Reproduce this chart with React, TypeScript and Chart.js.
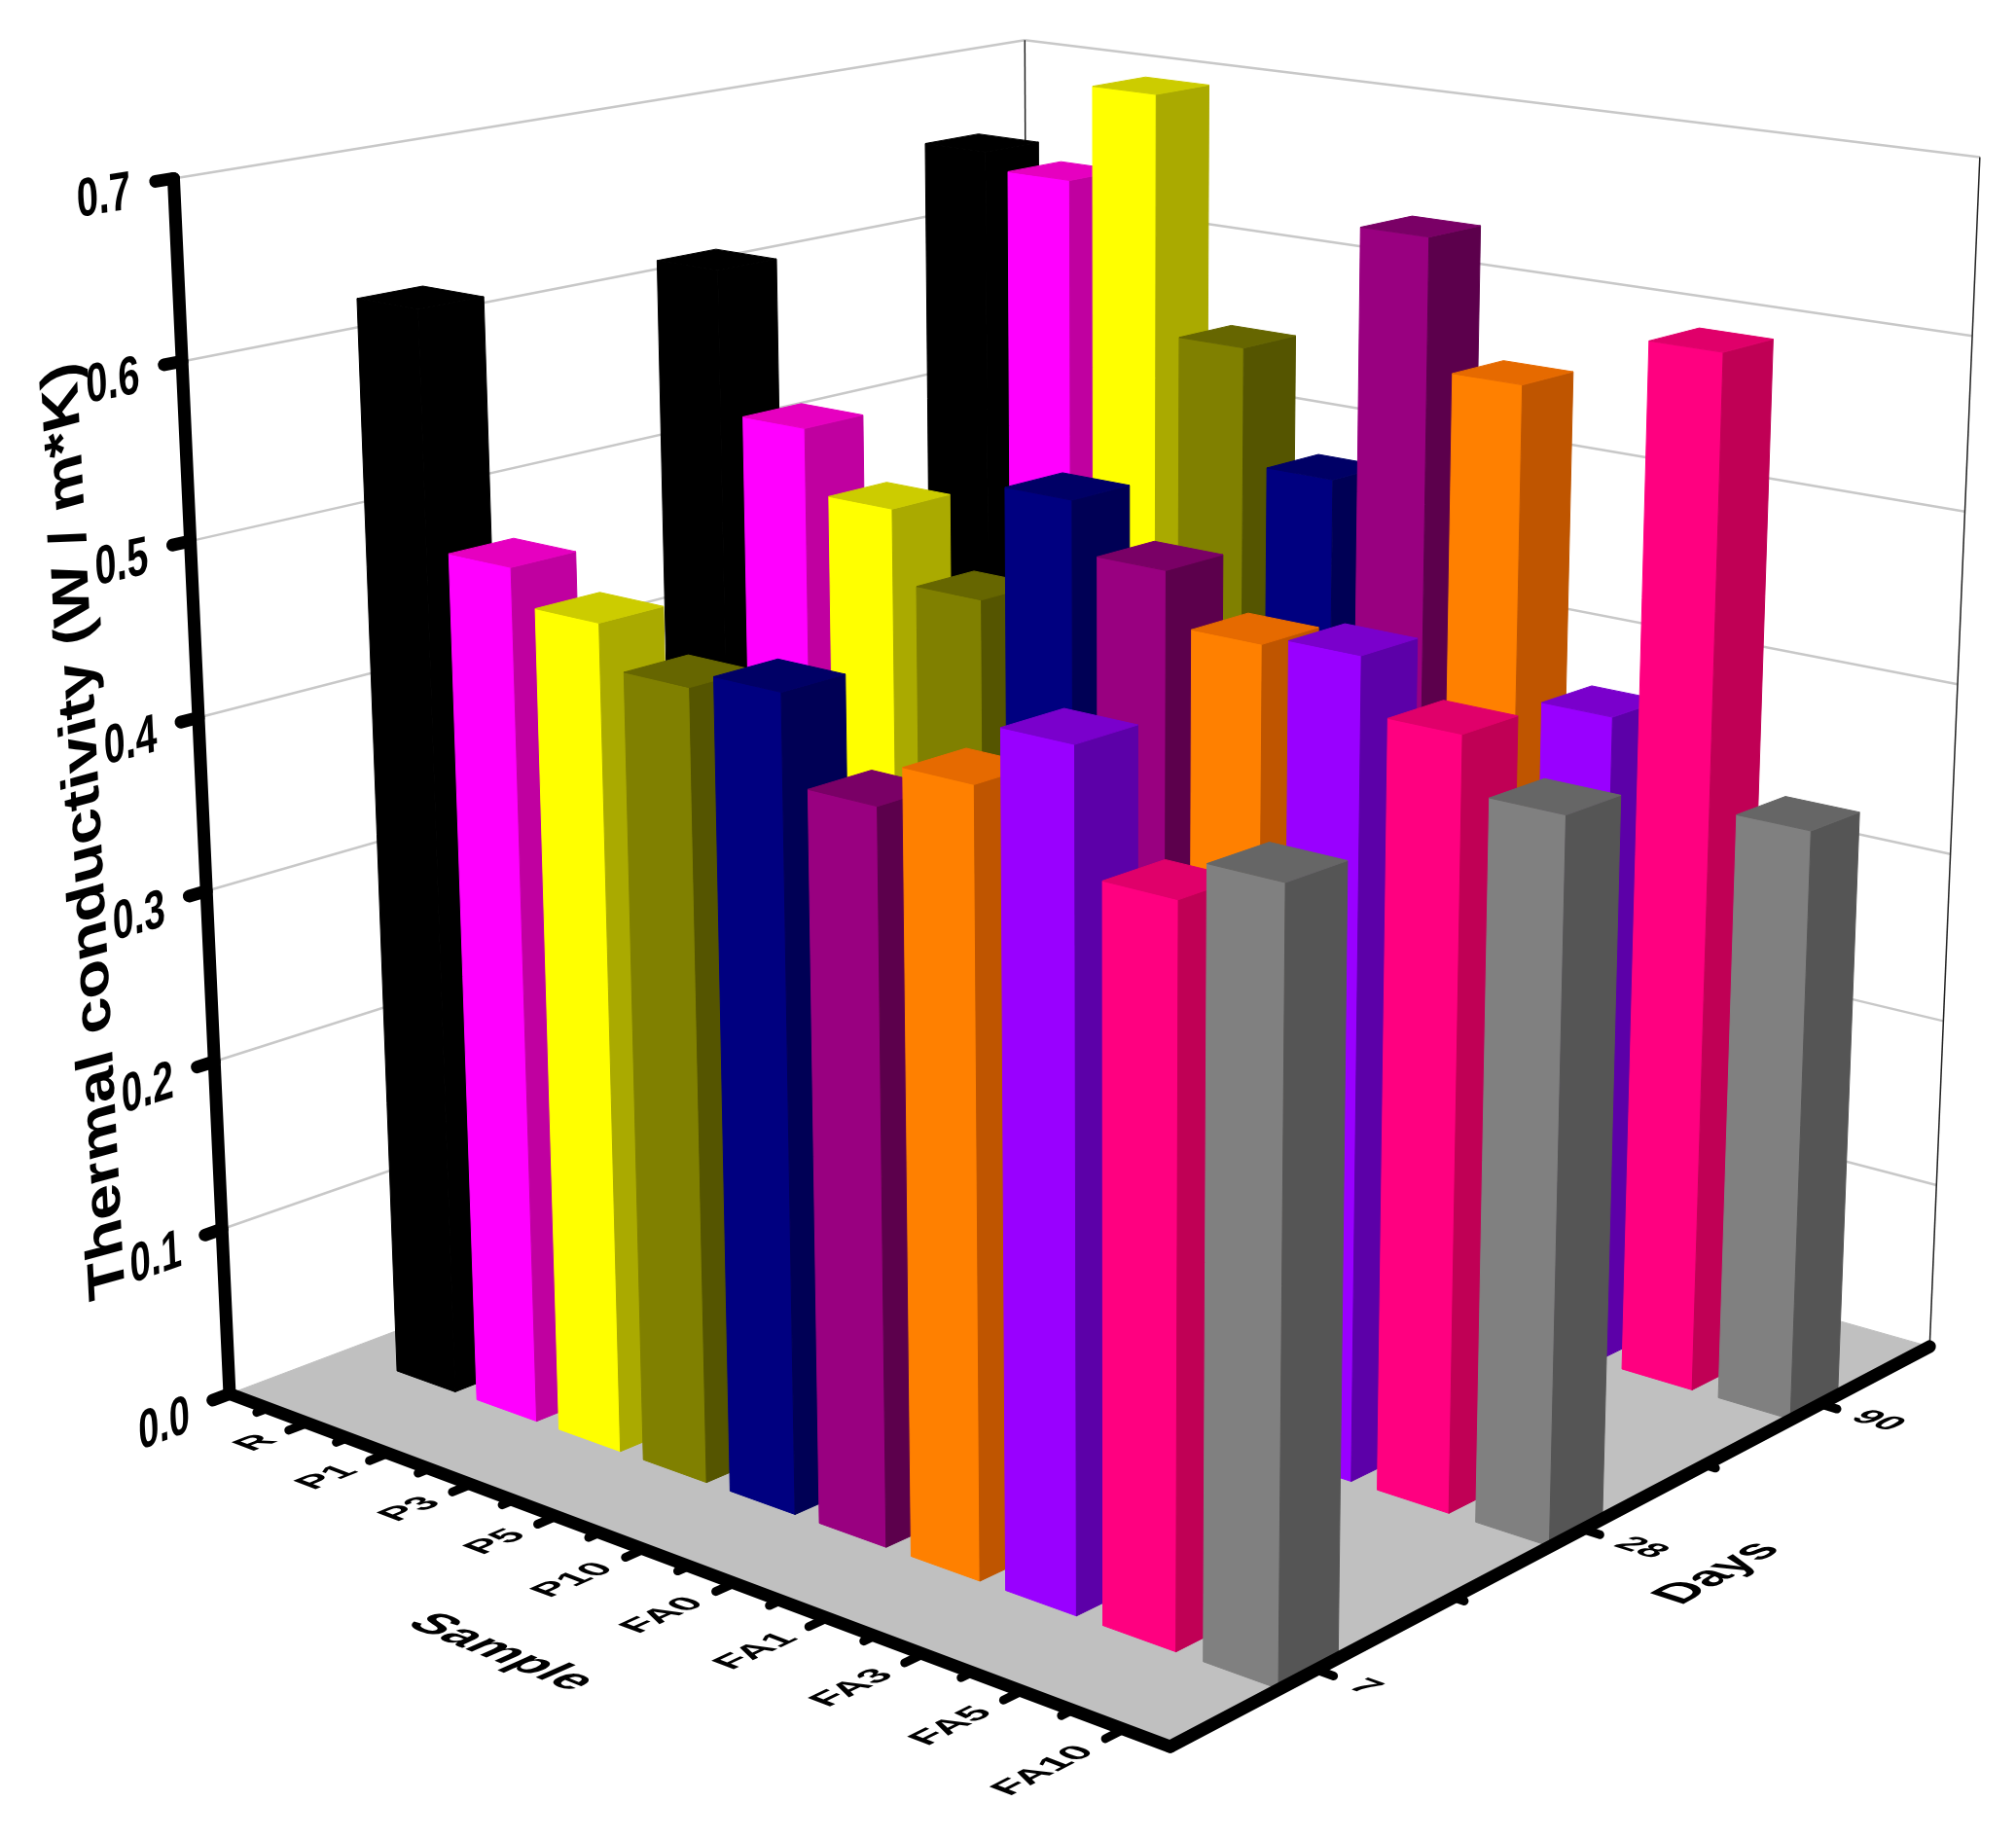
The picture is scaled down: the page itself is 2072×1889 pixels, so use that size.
import React, { useEffect, useRef } from "react";
import { Chart, registerables } from "chart.js";
Chart.register(...registerables);

const samples = ["R", "P1", "P3", "P5", "P10", "FA0", "FA1", "FA3", "FA5", "FA10"];
const days = ["7", "28", "90"];
const yTicks = [0, 0.1, 0.2, 0.3, 0.4, 0.5, 0.6, 0.7];
const yMax = 0.7;
const values7 = [0.628, 0.495, 0.475, 0.451, 0.46, 0.411, 0.435, 0.468, 0.401, 0.423];
const values28 = [0.617, 0.534, 0.497, 0.455, 0.522, 0.493, 0.463, 0.468, 0.437, 0.406];
const values90 = [0.657, 0.647, 0.705, 0.563, 0.494, 0.644, 0.568, 0.387, 0.604, 0.346];
const seriesByDay = [values7, values28, values90];
const faceFront = ["#000000", "#FF00FF", "#FFFF00", "#808000", "#000080", "#990080", "#FF8000", "#9900FF", "#FF0080", "#808080"];
const faceSide = ["#000000", "#C000A0", "#AAAA00", "#555500", "#000055", "#5C004C", "#BF5500", "#5C00A8", "#C00055", "#555555"];
const faceTop = ["#000000", "#E600C0", "#CCCC00", "#666600", "#000066", "#7A0066", "#E66A00", "#7A00CC", "#E0006A", "#666666"];

const K = 2072 / 1568;
// calibration of the box's corners: [sample, day, height] -> picture position
const anchors: number[][] = [
  [0, 0, 0, 183 * K, 1088 * K],
  [1, 0, 0, 905 * K, 1358 * K],
  [1, 1, 0, 1505 * K, 1045 * K],
  [0, 1, 0, 797 * K, 848 * K],
  [0, 0, 1, 135 * K, 135 * K],
  [0, 1, 1, 797 * K, 32 * K],
  [1, 1, 1, 1540 * K, 125 * K],
];
const firstU = 0.095;
const stepU = 0.0958;
const uAt = (i: number) => firstU + i * stepU;
const vAt = (j: number) => (j + 0.5) / days.length;
const barShiftU = 0.007;
const barShiftV = -0.008;

function solve(A: number[][], b: number[]) {
  const n = b.length;
  const M = A.map((r, i) => [...r, b[i]]);
  for (let c = 0; c < n; c++) {
    let p = c;
    for (let r = c + 1; r < n; r++) if (Math.abs(M[r][c]) > Math.abs(M[p][c])) p = r;
    [M[c], M[p]] = [M[p], M[c]];
    for (let r = 0; r < n; r++) {
      if (r === c) continue;
      const f = M[r][c] / M[c][c];
      for (let k = c; k <= n; k++) M[r][k] -= f * M[c][k];
    }
  }
  return M.map((r, i) => r[n] / r[i]);
}
function calibrate() {
  const R: number[][] = [];
  const B: number[] = [];
  for (const [u, v, w, px, py] of anchors) {
    const x = px / 1000, y = py / 1000;
    R.push([u, v, w, 1, 0, 0, 0, 0, -x * u, -x * v, -x * w]);
    B.push(x);
    R.push([0, 0, 0, 0, u, v, w, 1, -y * u, -y * v, -y * w]);
    B.push(y);
  }
  const AtA = Array.from({ length: 11 }, (_, i) => Array.from({ length: 11 }, (_, j) => R.reduce((s, r) => s + r[i] * r[j], 0)));
  const Atb = Array.from({ length: 11 }, (_, i) => R.reduce((s, r, k) => s + r[i] * B[k], 0));
  return solve(AtA, Atb);
}
const P = calibrate();
function project(u: number, v: number, w: number) {
  const d = P[8] * u + P[9] * v + P[10] * w + 1;
  return {
    x: ((P[0] * u + P[1] * v + P[2] * w + P[3]) * 1000) / d,
    y: ((P[4] * u + P[5] * v + P[6] * w + P[7]) * 1000) / d,
  };
}

type DS = any;
function poly(pts: number[][], color: string): DS {
  return {
    type: "line",
    data: [...pts, pts[0]].map((p) => project(p[0], p[1], p[2])),
    fill: "shape",
    backgroundColor: color,
    borderColor: color,
    borderWidth: 1,
    pointRadius: 0,
    tension: 0,
  };
}
function seg(a: number[], b: number[], color: string, width: number, cap = "butt"): DS {
  return {
    type: "line",
    data: [project(a[0], a[1], a[2]), project(b[0], b[1], b[2])],
    fill: false,
    borderColor: color,
    borderWidth: width,
    borderCapStyle: cap,
    pointRadius: 0,
    tension: 0,
  };
}

function buildDatasets() {
  const out: DS[] = [];
  const grid = "#C8C8C8";
  out.push(poly([[0, 0, 0], [1, 0, 0], [1, 1, 0], [0, 1, 0]], "#C0C0C0"));
  yTicks.slice(1).forEach((t) => {
    const w = t / yMax;
    out.push(seg([0, 0, w], [0, 1, w], grid, 2.5));
    out.push(seg([0, 1, w], [1, 1, w], grid, 2.5));
  });
  out.push(seg([0, 1, 0], [0, 1, 1], "#222222", 1.5));
  out.push(seg([1, 1, 0], [1, 1, 1], "#222222", 1.5));

  const wid = 0.07;
  for (let j = days.length - 1; j >= 0; j--) {
    const vc = vAt(j) + barShiftV;
    samples.forEach((_, i) => {
      const uc = uAt(i) + barShiftU;
      const h = seriesByDay[j][i] / yMax;
      const u0 = uc - wid / 2, u1 = uc + wid / 2, v0 = vc - wid / 2, v1 = vc + wid / 2;
      out.push(poly([[u0, v0, 0], [u1, v0, 0], [u1, v0, h], [u0, v0, h]], faceFront[i]));
      out.push(poly([[u1, v0, 0], [u1, v1, 0], [u1, v1, h], [u1, v0, h]], faceSide[i]));
      out.push(poly([[u0, v0, h], [u1, v0, h], [u1, v1, h], [u0, v1, h]], faceTop[i]));
    });
  }

  out.push(seg([0, 0, 0], [0, 0, 1], "#000000", 13, "round"));
  out.push(seg([0, 0, 0], [1, 0, 0], "#000000", 13, "round"));
  out.push(seg([1, 0, 0], [1, 1, 0], "#000000", 13, "round"));
  yTicks.forEach((t) => out.push(seg([0, 0, t / yMax], [0, -0.018, t / yMax], "#000000", 13, "round")));
  samples.forEach((_, i) => {
    out.push(seg([uAt(i), 0, 0], [uAt(i), -0.02, 0], "#000000", 9, "round"));
    out.push(seg([uAt(i) - stepU / 2, 0, 0], [uAt(i) - stepU / 2, -0.012, 0], "#000000", 9, "round"));
  });
  days.forEach((_, j) => {
    out.push(seg([1, vAt(j), 0], [1.016, vAt(j), 0], "#000000", 9, "round"));
    if (j > 0) out.push(seg([1, (vAt(j) + vAt(j - 1)) / 2, 0], [1.01, (vAt(j) + vAt(j - 1)) / 2, 0], "#000000", 9, "round"));
  });
  return out.map((d, k) => ({ ...d, order: -k }));
}

function dirOf(a: number[], b: number[]) {
  const p = project(a[0], a[1], a[2]);
  const q = project(b[0], b[1], b[2]);
  const l = Math.hypot(q.x - p.x, q.y - p.y);
  return { x: (q.x - p.x) / l, y: (q.y - p.y) / l };
}
function placed(ctx: CanvasRenderingContext2D, text: string, at: number[], along: number[], down: number[], px: number, sx: number, sy: number, align: CanvasTextAlign) {
  const e = 0.01;
  const p = project(at[0], at[1], at[2]);
  const dx = dirOf(at, [at[0] + along[0] * e, at[1] + along[1] * e, at[2] + along[2] * e]);
  const dy = dirOf(at, [at[0] + down[0] * e, at[1] + down[1] * e, at[2] + down[2] * e]);
  ctx.save();
  ctx.transform(dx.x * sx, dx.y * sx, dy.x * sy, dy.y * sy, p.x, p.y);
  ctx.font = `bold ${px}px "Liberation Sans", Arial, sans-serif`;
  ctx.fillStyle = "#000000";
  ctx.textAlign = align;
  ctx.textBaseline = "middle";
  ctx.fillText(text, 0, 0);
  ctx.restore();
}

const axisText = {
  id: "axisText",
  afterDatasetsDraw(chart: any) {
    const ctx = chart.ctx;
    yTicks.forEach((t) => placed(ctx, t.toFixed(1), [0, -0.043, t / yMax - 0.006], [0, 1, 0], [0, 0, -1], 56, 0.72, 1, "right"));
    samples.forEach((s, i) => placed(ctx, s, [uAt(i), -0.04, 0], [0, 1, 0], [1, 0, 0], 42, 1, 0.85, "right"));
    days.forEach((s, j) => placed(ctx, s, [1.035, vAt(j), 0], [1, 0, 0], [0, -1, 0], 40, 1, 0.85, "left"));
    placed(ctx, "Sample", [0.53, -0.2, 0], [1, 0, 0], [0, -1, 0], 52, 1, 1, "center");
    placed(ctx, "Days", [1.125, 0.5, 0], [0, 1, 0], [1, 0, 0], 50, 1, 1.05, "center");
    placed(ctx, "Thermal conductivity (W / m*K)", [0, -0.118, 0.505], [0, 0, 1], [0, 1, 0], 65, 1, 0.85, "center");
  },
};

export default function App() {
  const ref = useRef<HTMLCanvasElement>(null);
  useEffect(() => {
    const chart = new Chart(ref.current!, {
      type: "scatter",
      data: { datasets: buildDatasets() },
      plugins: [axisText],
      options: {
        animation: false,
        responsive: false,
        layout: { padding: 0 },
        events: [],
        plugins: { legend: { display: false }, tooltip: { enabled: false }, filler: { drawTime: "beforeDatasetDraw" } },
        scales: {
          x: { type: "linear", min: 0, max: 2072, display: false },
          y: { type: "linear", min: 0, max: 1889, reverse: true, display: false },
        },
      },
    } as any);
    return () => chart.destroy();
  }, []);
  return (
    <canvas
      ref={ref}
      width={2072}
      height={1889}
      style={{ position: "absolute", left: 0, top: 0, width: 2072, height: 1889, display: "block", background: "#fff" }}
    />
  );
}
